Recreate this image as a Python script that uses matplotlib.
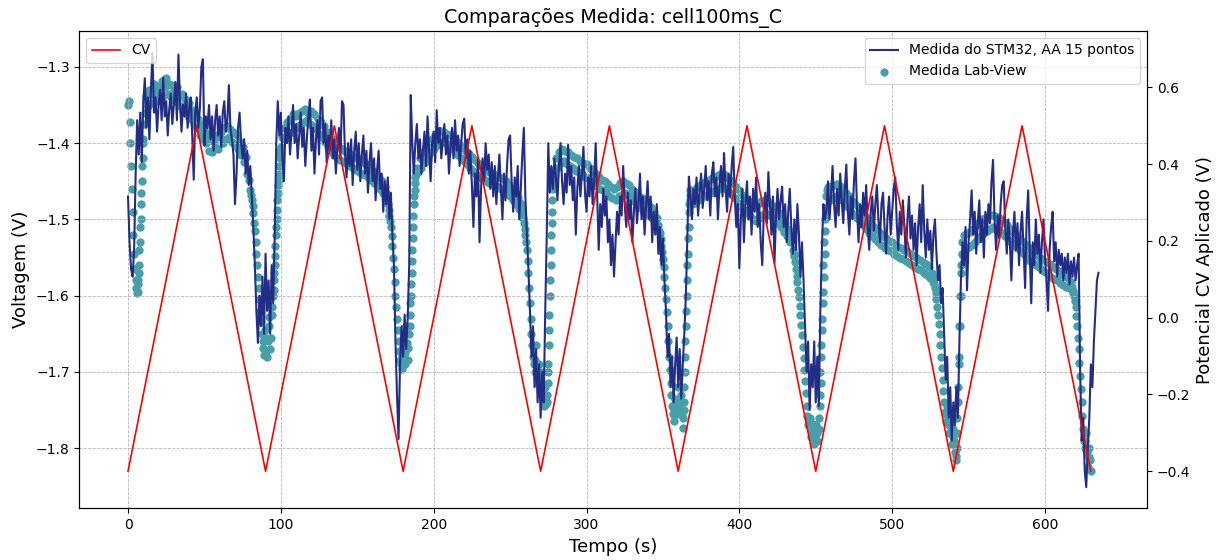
import numpy as np
import matplotlib
matplotlib.use("Agg")
import matplotlib.pyplot as plt

# Applied cyclic-voltammetry triangle (vertices, seconds / volts)
cv_time = [0, 45, 90, 135, 180, 225, 270, 315, 360, 405, 450, 495, 540, 585, 630]
cv_volt = [-0.4, 0.5, -0.4, 0.5, -0.4, 0.5, -0.4, 0.5, -0.4, 0.5, -0.4, 0.5, -0.4, 0.5, -0.4]

# STM32 reading (15-point moving average), one sample per second from t = 0 s
stm32_volt = [
    -1.470, -1.530, -1.565, -1.575, -1.540, -1.440, -1.370, -1.415, -1.360, -1.425,
    -1.345, -1.315, -1.380, -1.340, -1.395, -1.330, -1.282, -1.360, -1.340, -1.385,
    -1.350, -1.330, -1.370, -1.314, -1.365, -1.345, -1.390, -1.355, -1.335, -1.375,
    -1.350, -1.320, -1.370, -1.284, -1.345, -1.385, -1.350, -1.365, -1.335, -1.380,
    -1.355, -1.340, -1.390, -1.448, -1.360, -1.340, -1.380, -1.355, -1.300, -1.290,
    -1.403, -1.365, -1.380, -1.350, -1.395, -1.365, -1.410, -1.370, -1.350, -1.390,
    -1.365, -1.405, -1.360, -1.345, -1.385, -1.370, -1.324, -1.380, -1.395, -1.415,
    -1.480, -1.440, -1.380, -1.360, -1.400, -1.420, -1.395, -1.440, -1.410, -1.455,
    -1.430, -1.470, -1.510, -1.560, -1.620, -1.662, -1.600, -1.640, -1.575, -1.650,
    -1.545, -1.620, -1.580, -1.650, -1.560, -1.610, -1.520, -1.400, -1.345, -1.390,
    -1.360, -1.420, -1.450, -1.380, -1.400, -1.365, -1.415, -1.385, -1.350, -1.400,
    -1.375, -1.420, -1.390, -1.360, -1.405, -1.380, -1.430, -1.395, -1.365, -1.343,
    -1.410, -1.380, -1.440, -1.395, -1.370, -1.415, -1.345, -1.340, -1.400, -1.375,
    -1.425, -1.390, -1.410, -1.370, -1.420, -1.395, -1.440, -1.405, -1.380, -1.420,
    -1.345, -1.350, -1.415, -1.445, -1.400, -1.430, -1.395, -1.455, -1.410, -1.385,
    -1.435, -1.400, -1.450, -1.415, -1.390, -1.440, -1.410, -1.465, -1.425, -1.400,
    -1.450, -1.420, -1.475, -1.435, -1.410, -1.460, -1.440, -1.490, -1.450, -1.480,
    -1.445, -1.500, -1.465, -1.520, -1.560, -1.660, -1.730, -1.788, -1.690, -1.640,
    -1.680, -1.625, -1.670, -1.630, -1.560, -1.337, -1.400, -1.440, -1.400, -1.375,
    -1.420, -1.395, -1.440, -1.410, -1.385, -1.430, -1.365, -1.410, -1.450, -1.400,
    -1.385, -1.425, -1.357, -1.400, -1.380, -1.420, -1.395, -1.375, -1.415, -1.390,
    -1.440, -1.405, -1.380, -1.420, -1.370, -1.410, -1.390, -1.430, -1.400, -1.375,
    -1.368, -1.420, -1.395, -1.440, -1.410, -1.455, -1.510, -1.440, -1.470, -1.420,
    -1.530, -1.460, -1.420, -1.450, -1.400, -1.435, -1.415, -1.460, -1.425, -1.470,
    -1.430, -1.480, -1.445, -1.415, -1.460, -1.500, -1.440, -1.475, -1.430, -1.395,
    -1.390, -1.450, -1.490, -1.445, -1.470, -1.430, -1.500, -1.460, -1.415, -1.380,
    -1.470, -1.520, -1.565, -1.620, -1.680, -1.640, -1.720, -1.670, -1.740, -1.690,
    -1.760, -1.700, -1.740, -1.620, -1.520, -1.400, -1.465, -1.430, -1.460, -1.420,
    -1.445, -1.475, -1.430, -1.400, -1.450, -1.480, -1.440, -1.465, -1.402, -1.455,
    -1.430, -1.475, -1.445, -1.520, -1.460, -1.430, -1.470, -1.440, -1.405, -1.465,
    -1.490, -1.445, -1.470, -1.430, -1.480, -1.450, -1.400, -1.470, -1.540, -1.480,
    -1.510, -1.460, -1.495, -1.470, -1.530, -1.500, -1.560, -1.520, -1.575, -1.530,
    -1.490, -1.520, -1.470, -1.495, -1.430, -1.480, -1.510, -1.465, -1.500, -1.475,
    -1.530, -1.490, -1.460, -1.505, -1.480, -1.440, -1.500, -1.470, -1.520, -1.480,
    -1.450, -1.500, -1.470, -1.530, -1.490, -1.520, -1.480, -1.545, -1.510, -1.560,
    -1.525, -1.580, -1.620, -1.680, -1.650, -1.720, -1.680, -1.740, -1.690, -1.655,
    -1.720, -1.670, -1.735, -1.690, -1.650, -1.600, -1.520, -1.444, -1.470, -1.500,
    -1.460, -1.480, -1.445, -1.495, -1.465, -1.440, -1.485, -1.460, -1.430, -1.475,
    -1.450, -1.495, -1.440, -1.425, -1.470, -1.445, -1.500, -1.455, -1.430, -1.470,
    -1.413, -1.460, -1.490, -1.440, -1.470, -1.430, -1.405, -1.470, -1.510, -1.480,
    -1.564, -1.500, -1.460, -1.530, -1.480, -1.450, -1.500, -1.470, -1.520, -1.460,
    -1.490, -1.445, -1.510, -1.480, -1.530, -1.560, -1.490, -1.465, -1.505, -1.438,
    -1.480, -1.520, -1.470, -1.557, -1.495, -1.460, -1.500, -1.475, -1.457, -1.510,
    -1.480, -1.530, -1.490, -1.460, -1.510, -1.545, -1.500, -1.540, -1.480, -1.520,
    -1.575, -1.530, -1.580, -1.640, -1.700, -1.660, -1.750, -1.690, -1.720, -1.660,
    -1.740, -1.680, -1.745, -1.620, -1.540, -1.480, -1.500, -1.488, -1.450, -1.500,
    -1.470, -1.430, -1.480, -1.510, -1.460, -1.495, -1.440, -1.475, -1.505, -1.460,
    -1.428, -1.490, -1.520, -1.470, -1.500, -1.450, -1.420, -1.485, -1.530, -1.480,
    -1.510, -1.465, -1.495, -1.455, -1.510, -1.540, -1.490, -1.470, -1.515, -1.480,
    -1.455, -1.500, -1.530, -1.480, -1.465, -1.510, -1.545, -1.495, -1.470, -1.520,
    -1.490, -1.460, -1.445, -1.505, -1.540, -1.490, -1.520, -1.475, -1.510, -1.550,
    -1.500, -1.470, -1.525, -1.495, -1.540, -1.505, -1.560, -1.510, -1.480, -1.530,
    -1.455, -1.515, -1.550, -1.500, -1.540, -1.515, -1.565, -1.520, -1.500, -1.545,
    -1.580, -1.560, -1.610, -1.590, -1.650, -1.710, -1.680, -1.760, -1.720, -1.790,
    -1.740, -1.770, -1.720, -1.760, -1.660, -1.580, -1.530, -1.560, -1.510, -1.593,
    -1.530, -1.500, -1.462, -1.520, -1.490, -1.545, -1.505, -1.475, -1.530, -1.500,
    -1.550, -1.490, -1.520, -1.480, -1.505, -1.450, -1.422, -1.500, -1.540, -1.495,
    -1.525, -1.480, -1.455, -1.450, -1.510, -1.545, -1.500, -1.530, -1.580, -1.520,
    -1.490, -1.540, -1.505, -1.560, -1.515, -1.490, -1.540, -1.590, -1.500, -1.462,
    -1.540, -1.610, -1.530, -1.560, -1.500, -1.545, -1.520, -1.570, -1.530, -1.500,
    -1.550, -1.580, -1.620, -1.540, -1.510, -1.490, -1.555, -1.530, -1.575, -1.540,
    -1.560, -1.545, -1.580, -1.550, -1.570, -1.545, -1.585, -1.555, -1.575, -1.550,
    -1.580, -1.560, -1.545, -1.700, -1.790, -1.760, -1.830, -1.851, -1.800, -1.760,
    -1.690, -1.720, -1.660, -1.620, -1.580, -1.570,
]

# Lab-View reading, one sample per second from t = 0 s
labview_volt = [
    -1.350, -1.372, -1.430, -1.490, -1.545, -1.580, -1.597, -1.570, -1.510, -1.450,
    -1.395, -1.360, -1.338, -1.352, -1.330, -1.348, -1.335, -1.322, -1.345, -1.330,
    -1.340, -1.325, -1.318, -1.338, -1.326, -1.315, -1.335, -1.322, -1.340, -1.324,
    -1.330, -1.345, -1.326, -1.340, -1.352, -1.335, -1.358, -1.342, -1.350, -1.365,
    -1.348, -1.368, -1.356, -1.375, -1.362, -1.380, -1.368, -1.390, -1.375, -1.395,
    -1.382, -1.400, -1.388, -1.410, -1.395, -1.412, -1.398, -1.405, -1.390, -1.408,
    -1.392, -1.385, -1.400, -1.380, -1.395, -1.378, -1.392, -1.382, -1.398, -1.385,
    -1.402, -1.390, -1.408, -1.398, -1.415, -1.405, -1.425, -1.418, -1.440, -1.448,
    -1.462, -1.475, -1.492, -1.515, -1.545, -1.575, -1.605, -1.635, -1.660, -1.678,
    -1.655, -1.680, -1.640, -1.670, -1.625, -1.600, -1.560, -1.510, -1.465, -1.430,
    -1.405, -1.392, -1.380, -1.395, -1.372, -1.388, -1.368, -1.385, -1.362, -1.380,
    -1.365, -1.378, -1.360, -1.375, -1.358, -1.372, -1.355, -1.370, -1.360, -1.375,
    -1.358, -1.378, -1.362, -1.382, -1.368, -1.388, -1.372, -1.392, -1.378, -1.398,
    -1.385, -1.405, -1.390, -1.410, -1.395, -1.415, -1.400, -1.420, -1.405, -1.422,
    -1.408, -1.425, -1.410, -1.428, -1.412, -1.430, -1.415, -1.432, -1.418, -1.435,
    -1.420, -1.438, -1.422, -1.440, -1.425, -1.442, -1.428, -1.445, -1.432, -1.448,
    -1.436, -1.452, -1.440, -1.455, -1.444, -1.460, -1.450, -1.465, -1.458, -1.472,
    -1.480, -1.495, -1.510, -1.535, -1.565, -1.600, -1.630, -1.660, -1.685, -1.696,
    -1.665, -1.690, -1.640, -1.685, -1.650, -1.600, -1.540, -1.480, -1.445, -1.432,
    -1.438, -1.420, -1.432, -1.412, -1.425, -1.405, -1.418, -1.398, -1.412, -1.395,
    -1.408, -1.390, -1.402, -1.386, -1.400, -1.384, -1.398, -1.385, -1.400, -1.388,
    -1.404, -1.390, -1.408, -1.394, -1.412, -1.398, -1.416, -1.402, -1.420, -1.406,
    -1.424, -1.410, -1.428, -1.414, -1.432, -1.418, -1.436, -1.422, -1.440, -1.426,
    -1.444, -1.430, -1.446, -1.432, -1.450, -1.436, -1.452, -1.438, -1.454, -1.440,
    -1.456, -1.442, -1.458, -1.444, -1.460, -1.446, -1.462, -1.450, -1.466, -1.455,
    -1.470, -1.460, -1.475, -1.466, -1.480, -1.472, -1.486, -1.480, -1.492, -1.505,
    -1.520, -1.540, -1.570, -1.610, -1.650, -1.680, -1.700, -1.665, -1.715, -1.690,
    -1.730, -1.700, -1.745, -1.720, -1.740, -1.690, -1.600, -1.520, -1.460, -1.435,
    -1.420, -1.432, -1.412, -1.426, -1.408, -1.424, -1.410, -1.428, -1.412, -1.430,
    -1.415, -1.432, -1.418, -1.436, -1.420, -1.438, -1.424, -1.440, -1.426, -1.444,
    -1.428, -1.446, -1.432, -1.450, -1.436, -1.452, -1.440, -1.456, -1.444, -1.460,
    -1.448, -1.462, -1.450, -1.466, -1.454, -1.470, -1.458, -1.472, -1.460, -1.474,
    -1.458, -1.470, -1.452, -1.468, -1.450, -1.465, -1.452, -1.468, -1.455, -1.472,
    -1.460, -1.476, -1.464, -1.480, -1.468, -1.484, -1.472, -1.488, -1.476, -1.492,
    -1.480, -1.494, -1.484, -1.498, -1.490, -1.504, -1.498, -1.512, -1.518, -1.535,
    -1.552, -1.575, -1.605, -1.640, -1.680, -1.715, -1.745, -1.764, -1.735, -1.755,
    -1.720, -1.750, -1.730, -1.774, -1.720, -1.640, -1.560, -1.490, -1.462, -1.480,
    -1.462, -1.478, -1.458, -1.475, -1.455, -1.472, -1.452, -1.470, -1.450, -1.468,
    -1.448, -1.466, -1.446, -1.464, -1.444, -1.462, -1.442, -1.460, -1.440, -1.458,
    -1.440, -1.460, -1.444, -1.464, -1.448, -1.468, -1.452, -1.472, -1.458, -1.478,
    -1.462, -1.482, -1.468, -1.488, -1.472, -1.492, -1.476, -1.496, -1.480, -1.500,
    -1.484, -1.502, -1.480, -1.498, -1.476, -1.494, -1.474, -1.492, -1.476, -1.494,
    -1.478, -1.496, -1.482, -1.500, -1.486, -1.505, -1.492, -1.510, -1.498, -1.516,
    -1.505, -1.522, -1.512, -1.530, -1.522, -1.540, -1.548, -1.565, -1.582, -1.602,
    -1.625, -1.652, -1.682, -1.712, -1.745, -1.770, -1.760, -1.785, -1.768, -1.795,
    -1.770, -1.790, -1.760, -1.700, -1.630, -1.560, -1.500, -1.470, -1.458, -1.474,
    -1.456, -1.472, -1.455, -1.470, -1.454, -1.470, -1.456, -1.474, -1.460, -1.478,
    -1.465, -1.484, -1.470, -1.490, -1.476, -1.494, -1.480, -1.498, -1.485, -1.502,
    -1.490, -1.508, -1.495, -1.512, -1.500, -1.518, -1.505, -1.522, -1.510, -1.526,
    -1.514, -1.530, -1.518, -1.534, -1.522, -1.537, -1.525, -1.540, -1.528, -1.542,
    -1.530, -1.545, -1.533, -1.548, -1.536, -1.550, -1.538, -1.552, -1.540, -1.555,
    -1.542, -1.557, -1.545, -1.560, -1.548, -1.562, -1.550, -1.565, -1.553, -1.567,
    -1.556, -1.570, -1.558, -1.573, -1.562, -1.577, -1.570, -1.582, -1.590, -1.605,
    -1.625, -1.650, -1.680, -1.710, -1.740, -1.765, -1.745, -1.780, -1.760, -1.795,
    -1.775, -1.805, -1.815, -1.740, -1.640, -1.560, -1.530, -1.520, -1.538, -1.518,
    -1.536, -1.516, -1.534, -1.512, -1.530, -1.508, -1.526, -1.504, -1.522, -1.500,
    -1.518, -1.498, -1.515, -1.496, -1.512, -1.494, -1.510, -1.495, -1.512, -1.497,
    -1.514, -1.500, -1.518, -1.504, -1.522, -1.508, -1.526, -1.512, -1.530, -1.516,
    -1.534, -1.520, -1.538, -1.524, -1.542, -1.528, -1.546, -1.532, -1.550, -1.536,
    -1.554, -1.540, -1.557, -1.544, -1.560, -1.547, -1.563, -1.550, -1.566, -1.553,
    -1.569, -1.556, -1.572, -1.559, -1.575, -1.562, -1.578, -1.565, -1.580, -1.568,
    -1.583, -1.571, -1.586, -1.574, -1.588, -1.577, -1.590, -1.582, -1.594, -1.600,
    -1.615, -1.640, -1.670, -1.705, -1.740, -1.775, -1.800, -1.780, -1.825, -1.800,
    -1.830,
]

# Extra Lab-View samples at the half seconds around each dip
dip_start = [0.5, 80.5, 168.5, 256.5, 346.5, 435.5, 526.5, 617.5]
dip_volt = [
    [-1.345, -1.400, -1.460, -1.520, -1.565, -1.590, -1.585, -1.540, -1.480, -1.420,
     -1.375],
    [-1.468, -1.482, -1.505, -1.530, -1.560, -1.590, -1.620, -1.650, -1.668, -1.645,
     -1.672, -1.660, -1.628, -1.655, -1.615, -1.580, -1.535, -1.488, -1.448, -1.415],
    [-1.465, -1.476, -1.488, -1.502, -1.522, -1.550, -1.582, -1.615, -1.645, -1.672,
     -1.690, -1.680, -1.652, -1.675, -1.662, -1.668, -1.625, -1.570, -1.510, -1.462,
     -1.438],
    [-1.478, -1.486, -1.498, -1.512, -1.530, -1.555, -1.590, -1.630, -1.665, -1.690,
     -1.685, -1.700, -1.705, -1.712, -1.718, -1.728, -1.735, -1.742, -1.715, -1.645,
     -1.560, -1.490, -1.445],
    [-1.508, -1.515, -1.526, -1.543, -1.563, -1.590, -1.622, -1.660, -1.698, -1.730,
     -1.755, -1.750, -1.745, -1.738, -1.735, -1.742, -1.755, -1.750, -1.680, -1.600,
     -1.525, -1.475],
    [-1.545, -1.556, -1.574, -1.592, -1.613, -1.638, -1.667, -1.697, -1.728, -1.758,
     -1.765, -1.772, -1.778, -1.782, -1.785, -1.780, -1.775, -1.730, -1.665, -1.595,
     -1.530, -1.485, -1.462],
    [-1.576, -1.585, -1.597, -1.615, -1.637, -1.665, -1.695, -1.725, -1.752, -1.755,
     -1.762, -1.770, -1.778, -1.785, -1.790, -1.810, -1.780, -1.690, -1.600, -1.545],
    [-1.588, -1.597, -1.607, -1.627, -1.655, -1.688, -1.722, -1.758, -1.790, -1.790,
     -1.805, -1.812, -1.815],
]

# Extra Lab-View samples at the quarter seconds on each recovery edge
rise_start = [6.25, 95.25, 184.25, 274.25, 363.25, 452.25, 542.25]
rise_volt = [
    [-1.595, -1.580, -1.560, -1.530, -1.500, -1.465, -1.430, -1.400],
    [-1.592, -1.570, -1.548, -1.520, -1.500, -1.475, -1.455, -1.440, -1.420, -1.410],
    [-1.640, -1.610, -1.585, -1.555, -1.525, -1.495, -1.470, -1.452, -1.440, -1.435],
    [-1.730, -1.700, -1.665, -1.625, -1.580, -1.540, -1.505, -1.475, -1.452, -1.440],
    [-1.760, -1.740, -1.700, -1.660, -1.620, -1.580, -1.545, -1.510, -1.480, -1.468],
    [-1.775, -1.745, -1.715, -1.680, -1.645, -1.610, -1.575, -1.545, -1.515, -1.490],
    [-1.800, -1.760, -1.720, -1.680, -1.640, -1.600, -1.570, -1.545],
]

stm32_time = np.arange(len(stm32_volt), dtype=float)

lab_t = [np.arange(len(labview_volt), dtype=float)]
lab_v = [np.asarray(labview_volt)]
for starts, groups, step in ((dip_start, dip_volt, 1.0), (rise_start, rise_volt, 0.5)):
    for start, vals in zip(starts, groups):
        lab_t.append(start + step * np.arange(len(vals), dtype=float))
        lab_v.append(np.asarray(vals))
lab_t = np.concatenate(lab_t)
lab_v = np.concatenate(lab_v)

fig = plt.figure(figsize=(12.21, 5.6), dpi=100)
ax = fig.add_axes([0.0651, 0.0920, 0.8743, 0.8527])

ax.plot(stm32_time, stm32_volt, color="#232d87", linewidth=1.5,
        label="Medida do STM32, AA 15 pontos")
ax.scatter(lab_t, lab_v, s=36, color="#47a0a9", linewidths=0,
           label="Medida Lab-View")

ax.set_ylim(-1.879, -1.253)
ax.set_xlabel("Tempo (s)", fontsize=13)
ax.set_ylabel("Voltagem (V)", fontsize=13)
ax.set_title("Comparações Medida: cell100ms_C", fontsize=13.7)
ax.grid(True, linestyle="--", linewidth=0.6, color="#b5b5b5")
ax.tick_params(labelsize=10)
ax.legend(loc="upper right", fontsize=10)

ax2 = ax.twinx()
ax2.plot(cv_time, cv_volt, color="red", linewidth=1.2, label="CV")
ax2.set_ylim(-0.497, 0.747)
ax2.set_ylabel("Potencial CV Aplicado (V)", fontsize=13)
ax2.tick_params(labelsize=10)
ax2.legend(loc="upper left", fontsize=10)

fig.savefig("out.png", dpi=100)
